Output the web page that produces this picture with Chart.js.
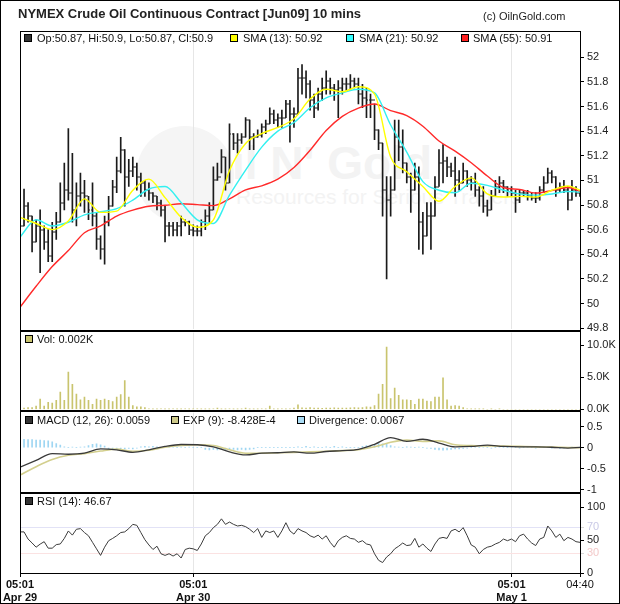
<!DOCTYPE html>
<html>
<head>
<meta charset="utf-8">
<script src="https://cdn.jsdelivr.net/npm/chart.js@4/dist/chart.umd.min.js"></script>
<style>
  body { margin: 0; background: #fff; }
  #wrap { position: relative; width: 620px; height: 604px; overflow: hidden; font-family: Arial, "Liberation Sans", sans-serif; color: #111; }
  canvas { position: absolute; left: 0; }
  .box { position: absolute; box-sizing: border-box; pointer-events: none; }
  .txt { position: absolute; white-space: nowrap; font-size: 11px; line-height: 13px; }
  .sq { position: absolute; width: 8px; height: 8px; box-sizing: border-box; border: 1px solid #000; }
</style>
</head>
<body>
<div id="wrap">
  <!-- faint watermark -->
  <div class="box" style="left:136px;top:126px;width:98px;height:98px;border-radius:50%;background:#f5f5f5;"></div>
  <div class="txt" style="left:232px;top:140px;font-size:46px;line-height:46px;font-weight:bold;color:#f3f3f3;">il N' Gold</div>
  <div class="txt" style="left:236px;top:186px;font-size:21px;line-height:22px;color:#f3f3f3;">Resources for Serious Traders</div>

  <canvas id="cMain" width="620" height="316" style="top:23px;width:620px;height:316px;"></canvas>
  <canvas id="cVol" width="620" height="96" style="top:323px;width:620px;height:96px;"></canvas>
  <canvas id="cMacd" width="620" height="98" style="top:403px;width:620px;height:98px;"></canvas>
  <canvas id="cRsi" width="620" height="119" style="top:485px;width:620px;height:119px;"></canvas>

  <!-- frames -->
  <div class="box" style="left:0;top:0;width:620px;height:604px;border:1px solid #000;"></div>
  <div class="box" style="left:20px;top:31px;width:561px;height:543px;border:1px solid #000;"></div>
  <div class="box" style="left:20px;top:330px;width:561px;height:2px;background:#000;"></div>
  <div class="box" style="left:20px;top:410px;width:561px;height:2px;background:#000;"></div>
  <div class="box" style="left:20px;top:492px;width:561px;height:2px;background:#000;"></div>

  <!-- title -->
  <div class="txt" style="left:18px;top:6px;font-size:13px;line-height:15px;font-weight:bold;color:#222;">NYMEX Crude Oil Continuous Contract [Jun09] 10 mins</div>
  <div class="txt" style="left:483px;top:10px;color:#222;">(c) OilnGold.com</div>

  <!-- legends -->
  <div class="sq" style="left:24px;top:34px;background:#333;"></div>
  <div class="txt" style="left:37px;top:32px;">Op:50.87, Hi:50.9, Lo:50.87, Cl:50.9</div>
  <div class="sq" style="left:230px;top:34px;background:#ffff00;"></div>
  <div class="txt" style="left:243px;top:32px;">SMA (13): 50.92</div>
  <div class="sq" style="left:346px;top:34px;background:#33ffff;"></div>
  <div class="txt" style="left:359px;top:32px;">SMA (21): 50.92</div>
  <div class="sq" style="left:461px;top:34px;background:#ff2020;"></div>
  <div class="txt" style="left:473px;top:32px;">SMA (55): 50.91</div>

  <div class="sq" style="left:25px;top:335px;background:#c9c46e;"></div>
  <div class="txt" style="left:37px;top:333px;">Vol: 0.002K</div>

  <div class="sq" style="left:25px;top:416px;background:#333;"></div>
  <div class="txt" style="left:37px;top:414px;">MACD (12, 26): 0.0059</div>
  <div class="sq" style="left:171px;top:416px;background:#cdc98a;"></div>
  <div class="txt" style="left:183px;top:414px;">EXP (9): -8.428E-4</div>
  <div class="sq" style="left:297px;top:416px;background:#aadcf5;"></div>
  <div class="txt" style="left:309px;top:414px;">Divergence: 0.0067</div>

  <div class="sq" style="left:25px;top:497px;background:#333;"></div>
  <div class="txt" style="left:37px;top:495px;">RSI (14): 46.67</div>
</div>

<script>
//data: each entry is one bar on the time axis
let hi = [50.72,50.93,50.82,50.71,50.68,50.76,50.63,50.60,50.66,50.74,
  50.98,51.14,51.42,51.22,50.98,51.06,51.00,50.87,50.98,50.74,
  50.55,50.71,50.87,51.00,51.19,51.35,51.25,51.17,51.19,51.14,
  51.06,51.00,50.98,50.90,50.87,50.84,50.79,50.66,50.66,50.66,
  50.71,50.68,50.67,50.64,50.63,50.68,50.76,50.82,51.11,51.14,
  51.25,51.19,51.46,51.38,51.38,51.38,51.51,51.49,51.38,51.41,
  51.46,51.49,51.59,51.57,51.54,51.57,51.65,51.65,51.59,51.91,
  51.94,51.89,51.81,51.70,51.75,51.83,51.89,51.83,51.78,51.81,
  51.83,51.83,51.86,51.83,51.83,51.78,51.75,51.70,51.62,51.41,
  51.30,51.03,51.03,51.49,51.49,51.41,51.14,51.06,51.14,51.11,
  50.74,50.82,50.82,51.03,51.25,51.29,51.19,51.14,51.19,51.08,
  51.14,51.08,51.03,51.06,50.95,50.95,50.84,50.92,51.00,51.03,
  51.00,50.95,50.95,50.92,50.92,50.92,50.92,50.90,50.90,50.95,
  51.03,51.10,51.08,51.03,50.98,51.00,50.95,51.00,50.95,50.92];
let lo = [50.60,50.63,50.66,50.42,50.50,50.25,50.44,50.34,50.34,50.52,
  50.66,50.76,50.84,50.66,50.63,50.79,50.74,50.68,50.63,50.44,
  50.36,50.32,50.63,50.79,50.90,51.06,50.79,50.95,51.03,50.92,
  50.87,50.87,50.84,50.82,50.76,50.71,50.50,50.55,50.55,50.55,
  50.55,50.63,50.56,50.55,50.55,50.55,50.60,50.66,50.76,51.00,
  51.06,50.92,50.98,51.25,51.22,51.30,51.35,51.25,51.25,51.35,
  51.35,51.38,51.46,51.46,51.43,51.43,51.51,51.31,51.43,51.54,
  51.70,51.67,51.57,51.51,51.57,51.65,51.70,51.70,51.65,51.51,
  51.70,51.73,51.73,51.75,51.62,51.59,51.51,51.51,51.33,51.25,
  50.71,50.20,50.71,50.92,51.16,51.06,50.98,50.74,50.92,50.44,
  50.40,50.55,50.44,50.71,50.95,50.98,51.03,51.03,50.87,50.92,
  50.98,50.95,50.92,50.87,50.79,50.74,50.71,50.76,50.87,50.90,
  50.90,50.87,50.87,50.74,50.82,50.87,50.84,50.84,50.82,50.84,
  50.90,50.98,50.98,50.87,50.90,50.90,50.76,50.84,50.87,50.87];
let cl = [50.63,50.79,50.71,50.50,50.63,50.60,50.50,50.39,50.58,50.66,
  50.82,50.92,50.90,50.76,50.87,50.90,50.87,50.76,50.71,50.52,
  50.44,50.66,50.79,50.95,51.08,51.25,51.03,51.08,51.11,51.03,
  50.98,50.92,50.90,50.87,50.82,50.76,50.63,50.63,50.60,50.63,
  50.66,50.66,50.60,50.59,50.59,50.66,50.71,50.76,51.00,51.03,
  51.19,50.98,51.38,51.30,51.33,51.35,51.49,51.35,51.35,51.37,
  51.43,51.46,51.54,51.49,51.51,51.51,51.62,51.54,51.54,51.83,
  51.83,51.78,51.65,51.59,51.70,51.75,51.81,51.75,51.73,51.75,
  51.78,51.78,51.81,51.78,51.70,51.67,51.65,51.65,51.41,51.30,
  50.92,50.84,50.92,51.35,51.27,51.14,51.03,50.92,51.03,50.66,
  50.55,50.71,50.71,50.95,51.14,51.16,51.11,51.08,51.00,50.98,
  51.08,51.00,50.98,50.92,50.87,50.79,50.76,50.87,50.95,50.98,
  50.95,50.92,50.90,50.84,50.90,50.90,50.87,50.86,50.86,50.92,
  50.98,51.06,51.03,50.92,50.95,50.92,50.84,50.92,50.90,50.90];
let firstOpen = 50.68;

//moving averages, read every 4th bar (last one is the final bar)
let sma13 = [50.70,50.65,50.60,50.67,50.85,50.74,50.75,50.92,51.01,50.86,50.70,50.62,
  50.68,51.08,51.30,51.38,51.43,51.50,51.66,51.74,51.72,51.76,51.70,51.19,
  51.07,50.95,50.83,50.95,51.02,50.89,50.865,50.87,50.865,50.92,50.955,50.92];
let sma21 = [50.54,50.68,50.63,50.66,50.72,50.745,50.77,50.84,50.93,50.95,50.82,50.68,
  50.65,50.88,51.084,51.27,51.40,51.47,51.59,51.67,51.71,51.74,51.71,51.45,
  51.23,50.99,50.92,50.90,50.977,50.96,50.92,50.89,50.88,50.89,50.91,50.905];
let sma55 = [49.97,50.14,50.30,50.43,50.575,50.63,50.71,50.758,50.79,50.798,50.81,50.803,
  50.795,50.85,50.923,50.956,51.01,51.105,51.245,51.405,51.52,51.587,51.62,51.566,
  51.526,51.44,51.32,51.237,51.143,51.036,50.942,50.926,50.897,50.918,50.942,50.91];

//volume in thousands
let vol = [0.2,0.2,0.3,0.3,0.5,1.6,0.5,1.1,1.0,1.4,
  2.7,1.4,5.8,3.9,2.4,1.5,1.9,1.4,0.8,1.6,
  1.4,1.6,1.4,1.2,1.9,2.3,4.5,1.9,0.6,0.4,
  0.4,0.3,0.1,0.05,0.05,0.1,0.05,0.05,0.1,0.05,
  0.05,0.1,0.05,0.05,0.1,0.05,0.05,0.05,0.1,0.2,
  0.05,0.05,0.1,0.05,0.05,0.05,0.2,0.05,0.05,0.05,
  0.1,0.05,0.5,0.05,0.05,0.1,0.05,0.1,0.2,0.7,
  0.25,0.2,0.3,0.2,0.2,0.15,0.2,0.2,0.25,0.2,
  0.2,0.2,0.25,0.3,0.25,0.3,0.4,0.35,0.6,2.4,
  3.9,9.7,1.7,3.3,2.2,1.5,1.5,1.4,0.8,1.6,
  1.6,1.3,1.2,1.9,1.9,4.9,1.5,0.5,0.6,0.5,
  0.3,0.1,0.05,0.05,0.05,0.05,0,0.05,0,0.05,
  0,0,0,0,0,0,0,0,0,0,
  0,0,0,0,0,0,0,0,0,0];

//MACD and its signal, read every 4th bar
let macd = [-0.46,-0.30,-0.14,-0.155,-0.13,-0.03,-0.05,-0.11,-0.05,0.03,0.075,0.07,
  0.02,-0.10,-0.17,-0.13,-0.12,-0.10,-0.13,-0.09,-0.07,-0.04,0.08,0.24,
  0.15,0.20,0.11,0.02,0.03,0.06,0.03,0.02,0.02,0.01,-0.01,0.006];
let signal = [-0.65,-0.45,-0.28,-0.18,-0.14,-0.08,-0.035,-0.085,-0.06,0.01,0.05,0.07,
  0.05,-0.05,-0.13,-0.13,-0.12,-0.11,-0.10,-0.085,-0.07,-0.05,0.02,0.13,
  0.18,0.15,0.16,0.07,0.05,0.04,0.04,0.03,0.02,0.015,0.005,-0.001];
let diverg = [0.20,0.20,0.19,0.19,0.18,0.18,0.17,0.16,0.14,0.10,
  0.06,0.02,0,0.01,0,0.01,0.02,0.05,0.08,0.09,
  0.07,0.04,-0.03,-0.04,-0.03,-0.04,-0.03,-0.02,-0.03,-0.01,
  0.02,0.03,0.02,0.03,0.02,0,0.01,0.02,0.01,0,
  0.01,0,0.01,0,0,0,-0.04,-0.05,-0.04,-0.05,
  -0.04,-0.05,-0.04,-0.04,-0.05,-0.04,-0.05,-0.04,-0.03,0,
  0,0,0,0,0,0,0,0,0,0.02,
  0,0.03,0,0.02,0,0,0.02,0,0.03,0,
  0.02,0,0,0,0,0.03,0.05,0.06,0.08,0.10,
  0.09,0.08,0.05,0.02,0.01,0,0.02,0.01,0,0.01,
  0,-0.01,-0.02,-0.04,-0.05,-0.06,-0.05,-0.04,-0.03,-0.03,
  -0.02,-0.01,0,0.01,0,0.01,0,-0.01,0,0.01,
  0,0,0.01,0,-0.01,0,0.01,0,-0.01,0,
  0.01,0,-0.01,0,-0.02,-0.01,0,0.01,0,0.01];

let rsi = [62.6,62.6,51.7,45.7,39.3,44,47.7,37.8,37.8,43.2,
  44.2,52.7,64,57.7,66.6,67.6,61.6,56.7,46.7,36.8,
  26.8,39.3,49.2,52.7,56.7,61.6,62.6,67.6,74.1,72.6,
  61.6,50.7,42.7,35.8,40.8,29.3,26.8,29.3,25.8,29.3,
  22.8,35.8,37.8,36.8,34.3,44.2,56.7,61.6,69.1,74.1,
  82.5,74.1,77.6,74.1,71.6,72.6,70.6,66.6,61.6,67.6,
  54.2,64.1,61.6,64.1,54.2,64.1,76.6,64.1,59.2,67.6,
  64.1,61.6,56.7,54.2,57.7,51.7,56.7,46.7,39.3,49.2,
  54.2,56.7,52.7,51.7,46.7,49.2,44.2,42.7,29.3,19.4,
  15.9,24.3,29.3,36.8,40.8,45.7,41.8,42.7,52.7,39.3,
  44.2,37.8,32.8,44.2,52.7,54.2,52.7,64.1,66.6,62.6,
  69.1,56.7,42.7,39.3,29.3,35.8,39.3,40.8,44.2,46.7,
  51.7,49.2,51.7,47.7,56.7,59.2,51.7,45.7,41.8,51.7,
  54.2,71.6,64.1,54.2,59.2,49.2,54.2,51.7,47.7,46.67];

//time axis labels (bar index where each label sits)
let tickIdx = [0, 43, 122, 139];
let tickTime = ["05:01", "05:01", "05:01", "04:40"];
let tickDay = ["Apr 29", "Apr 30", "May 1", ""];

//axis ticks of each panel
let priceTicks = [49.8, 50, 50.2, 50.4, 50.6, 50.8, 51, 51.2, 51.4, 51.6, 51.8, 52];
let volTicks = [0, 5, 10];
let macdTicks = [-1, -0.5, 0, 0.5];
let rsiTicks = [0, 30, 50, 70, 100];

// ------------------------------------------------------------------------------------------
const N = cl.length;
const FONT = 'Arial, "Liberation Sans", sans-serif';
Chart.defaults.font.family = FONT;
Chart.defaults.font.size = 11;
Chart.defaults.color = '#222';
Chart.defaults.animation = false;

const perBar = (arr) => arr.map((v, i) => ({ x: i, y: v }));
const every4 = (arr) => arr.map((v, k) => ({ x: Math.min(k * 4, N - 1), y: v }));

//shared time axis
function xAxis(showLabels) {
  return {
    type: 'linear', min: 0, max: N - 1, offset: false,
    afterBuildTicks: (s) => { s.ticks = tickIdx.map((v) => ({ value: v })); },
    afterFit: (s) => { s.height = showLabels ? 31 : 0; },
    grid: { color: '#e6e6e6', drawTicks: showLabels, tickLength: 4, tickColor: '#000', offset: false },
    border: { display: false },
    ticks: {
      display: showLabels, autoSkip: false, maxRotation: 0, padding: 1, color: '#111',
      font: (c) => ({ family: FONT, size: 11, weight: tickDay[c.index] ? 'bold' : 'normal' }),
      callback: (v, i) => tickDay[i] ? [tickTime[i], tickDay[i]] : tickTime[i],
    },
  };
}

//right value axis
function yAxis(min, max, vals, fmt) {
  return {
    position: 'right', min: min, max: max,
    afterBuildTicks: (s) => { s.ticks = vals.map((v) => ({ value: v })); },
    afterFit: (s) => { s.width = 40; },
    grid: { drawOnChartArea: false, color: '#000', tickLength: 4 },
    border: { display: true, color: '#000' },
    ticks: { autoSkip: false, padding: 3, callback: fmt },
  };
}

const baseOpts = (padBottom) => ({
  responsive: false, maintainAspectRatio: false,
  layout: { padding: { left: 20, right: 0, top: 8, bottom: padBottom } },
  plugins: { legend: { display: false }, tooltip: { enabled: false } },
});

//open / close ticks of the price bars
const ohlcTicks = {
  id: 'ohlcTicks',
  afterDatasetDraw(chart, args) {
    if (args.meta.type !== 'bar') return;
    const xs = chart.scales.x, ys = chart.scales.y, a = chart.chartArea, ctx = chart.ctx;
    ctx.save();
    ctx.beginPath(); ctx.rect(a.left, a.top, a.right - a.left, a.bottom - a.top); ctx.clip();
    ctx.fillStyle = '#222';
    for (let i = 0; i < N; i++) {
      const px = Math.round(xs.getPixelForValue(i));
      const op = i === 0 ? firstOpen : cl[i - 1];
      ctx.fillRect(px - 2, Math.round(ys.getPixelForValue(op)) - 0.5, 2, 1);
      ctx.fillRect(px, Math.round(ys.getPixelForValue(cl[i])) - 0.5, 2, 1);
    }
    ctx.restore();
  },
};

//main price panel
const lineDs = (data, color, order) => ({
  type: 'line', data: data, borderColor: color, borderWidth: 1.4, pointRadius: 0,
  cubicInterpolationMode: 'monotone', order: order,
});
new Chart(document.getElementById('cMain'), {
  type: 'bar',
  data: {
    datasets: [
      { type: 'bar', data: hi.map((h, i) => ({ x: i, y: [lo[i], h] })), backgroundColor: '#1a1a1a', barThickness: 1, order: 5 },
      lineDs(every4(sma55), '#ff2a2a', 3),
      lineDs(every4(sma21), '#33f0f0', 2),
      lineDs(every4(sma13), '#ffff00', 1),
    ],
  },
  options: Object.assign(baseOpts(8), {
    scales: {
      x: xAxis(false),
      y: yAxis(49.79, 52.2, priceTicks, (v) => String(Number(v.toFixed(1)))),
    },
  }),
  plugins: [ohlcTicks],
});

//volume panel
new Chart(document.getElementById('cVol'), {
  type: 'bar',
  data: { datasets: [{ data: perBar(vol), backgroundColor: '#c9c46e', barThickness: 1 }] },
  options: Object.assign(baseOpts(8), {
    scales: {
      x: xAxis(false),
      y: yAxis(0, 11.94, volTicks, (v) => v.toFixed(1) + 'K'),
    },
  }),
});

//MACD panel
new Chart(document.getElementById('cMacd'), {
  type: 'bar',
  data: {
    datasets: [
      { type: 'bar', data: perBar(diverg), backgroundColor: '#9fd6f2', barThickness: 1, order: 3 },
      { type: 'line', data: every4(signal), borderColor: '#d3cf8e', borderWidth: 1.6, pointRadius: 0, cubicInterpolationMode: 'monotone', order: 2 },
      { type: 'line', data: every4(macd), borderColor: '#3a3a3a', borderWidth: 1.3, pointRadius: 0, cubicInterpolationMode: 'monotone', order: 1 },
    ],
  },
  options: Object.assign(baseOpts(8), {
    scales: {
      x: xAxis(false),
      y: yAxis(-1.034, 0.83, macdTicks, (v) => String(v)),
    },
  }),
});

//RSI panel with the time labels
const rsiY = yAxis(0, 119.4, rsiTicks, (v) => String(v));
rsiY.grid = {
  drawOnChartArea: true, tickLength: 4,
  color: (c) => c.tick && c.tick.value === 70 ? '#e2e2f6' : (c.tick && c.tick.value === 30 ? '#fbe2e2' : 'rgba(0,0,0,0)'),
  tickColor: (c) => c.tick && (c.tick.value === 70 || c.tick.value === 30) ? '#d8d8d8' : '#000',
};
rsiY.ticks.color = (c) => c.tick.value === 70 ? '#c9c9e6' : (c.tick.value === 30 ? '#f3c9c9' : '#222');
new Chart(document.getElementById('cRsi'), {
  type: 'line',
  data: { datasets: [{ data: perBar(rsi), borderColor: '#3c3c3c', borderWidth: 1, pointRadius: 0, tension: 0 }] },
  options: Object.assign(baseOpts(0), {
    scales: { x: xAxis(true), y: rsiY },
  }),
});
</script>
</body>
</html>
